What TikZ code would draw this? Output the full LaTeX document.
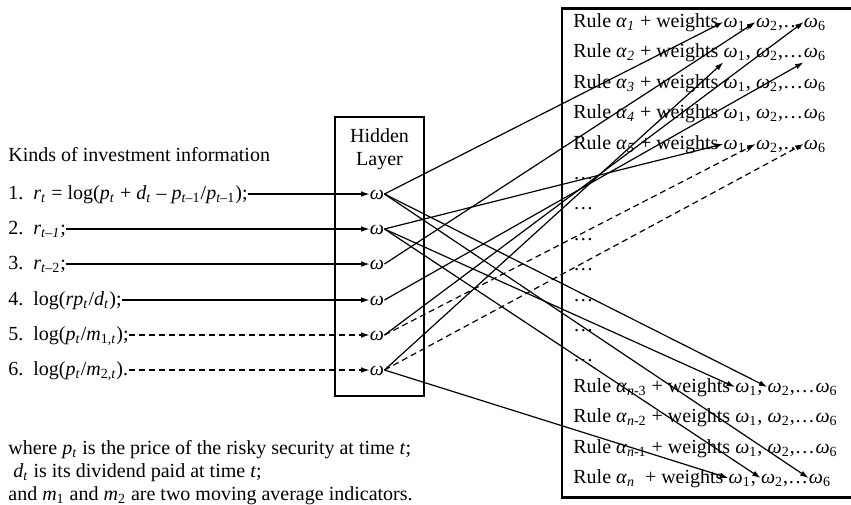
\documentclass[tikz,border=0pt]{standalone}
\usepackage{fontspec}
\setmainfont{Liberation Serif}
\usetikzlibrary{arrows.meta,positioning,fit}

\newcommand{\vi}[1]{\textit{#1}}
\newcommand{\lo}[1]{\textsubscript{#1}}
\newcommand{\om}[1]{\vi{ω}\lo{#1}}

\tikzset{
  txt/.style={inner sep=0pt, text height=0.75em, text depth=0.25em},
  box/.style={draw, line width=0.9pt, inner sep=0pt},
  feed/.style={line width=0.6pt, -{Latex[length=4.2pt,width=2.8pt]}},
  dashline/.style={dash pattern=on 3pt off 2pt},
}

% one row of the rule table: name, y, alpha
\newcommand{\rulerow}[3]{%
  \node[txt, anchor=west] (#1) at (573,#2) {Rule #3 + weights\kern.22em};
  \node[txt, anchor=west] (#1a) at (#1.east) {\om{1},\kern.22em};
  \node[txt, anchor=west] (#1b) at (#1a.east) {\om{2},\ldots};
  \node[txt, anchor=west] (#1c) at (#1b.east) {\om{6}};
}

\begin{document}
\begin{tikzpicture}[x=0.5pt, y=-0.5pt, font=\fontsize{10}{11.5}\selectfont]
  \useasboundingbox (0,0) rectangle (851,504);

  \node[box, fit={(335,117) (424,396)}] (hidden) {};
  \node[align=center, inner sep=0pt] (title) at (379.5,149) {Hidden\\Layer};
  \node[box, line width=0.7pt, fit={(562,9) (853,497)}] (rules) {};
  \draw[line width=1.3pt] (rules.north west) -- (rules.north east);
  \draw[line width=1.3pt] (rules.south west) -- (rules.south east);

  \node[txt, anchor=west] (kinds) at (8,156) {Kinds of investment information};
  \node[txt, anchor=west] (in1) at (8,194) {1.\ \ \vi{r}\lo{\vi{t}} = log(\vi{p}\lo{\vi{t}} + \vi{d}\lo{\vi{t}} – \vi{p}\lo{\vi{t}–1}/\vi{p}\lo{\vi{t}–1});};
  \node[txt, anchor=west] (in2) at (8,229) {2.\ \ \vi{r}\lo{\vi{t}–\vi{1}};};
  \node[txt, anchor=west] (in3) at (8,264) {3.\ \ \vi{r}\lo{\vi{t}–2};};
  \node[txt, anchor=west] (in4) at (8,300) {4.\ \ log(\vi{rp}\lo{\vi{t}}/\vi{d}\lo{\vi{t}});};
  \node[txt, anchor=west] (in5) at (8,335) {5.\ \ log(\vi{p}\lo{\vi{t}}/\vi{m}\lo{1,\vi{t}});};
  \node[txt, anchor=west] (in6) at (8,370) {6.\ \ log(\vi{p}\lo{\vi{t}}/\vi{m}\lo{2,\vi{t}}).};

  \node[txt] (w1) at (377,194) {\vi{ω}};
  \node[txt] (w2) at (377,229) {\vi{ω}};
  \node[txt] (w3) at (377,264) {\vi{ω}};
  \node[txt] (w4) at (377,300) {\vi{ω}};
  \node[txt] (w5) at (377,335) {\vi{ω}};
  \node[txt] (w6) at (377,370) {\vi{ω}};

  \rulerow{r1}{22}{\vi{α}\lo{\vi{1}}}
  \rulerow{r2}{52}{\vi{α}\lo{\vi{2}}}
  \rulerow{r3}{83}{\vi{α}\lo{\vi{3}}}
  \rulerow{r4}{113}{\vi{α}\lo{\vi{4}}}
  \rulerow{r5}{144}{\vi{α}\lo{\vi{5}}}
  \node[txt, anchor=west] (d1) at (573,174) {\ldots};
  \node[txt, anchor=west] (d2) at (573,204) {\ldots};
  \node[txt, anchor=west] (d3) at (573,235) {\ldots};
  \node[txt, anchor=west] (d4) at (573,265) {\ldots};
  \node[txt, anchor=west] (d5) at (573,296) {\ldots};
  \node[txt, anchor=west] (d6) at (573,326) {\ldots};
  \node[txt, anchor=west] (d7) at (573,356) {\ldots};
  \rulerow{rn3}{387}{\vi{α}\lo{\vi{n}-3}}
  \rulerow{rn2}{417}{\vi{α}\lo{\vi{n}-2}}
  \rulerow{rn1}{448}{\vi{α}\lo{\vi{n}-1}}
  \rulerow{rn}{478}{\vi{α}\lo{\vi{n}}\ }

  \node[txt, anchor=west] (note1) at (8,449) {where \vi{p}\lo{\vi{t}} is the price of the risky security at time \vi{t};};
  \node[txt, anchor=west] (note2) at (13,472) {\vi{d}\lo{\vi{t}} is its dividend paid at time \vi{t};};
  \node[txt, anchor=west] (note3) at (8,495) {and \vi{m}\lo{1} and \vi{m}\lo{2} are two moving average indicators.};

  \draw[feed] (in1) -- (w1);
  \draw[feed] (in2) -- (w2);
  \draw[feed] (in3) -- (w3);
  \draw[feed] (in4) -- (w4);
  \draw[feed, dashline] (in5) -- (w5);
  \draw[feed, dashline] (in6) -- (w6);

  \draw[feed] (w1.east) -- (r1a.west);
  \draw[feed] (w3.east) -- (r1b.west);
  \draw[feed] (w5.east) -- (r1c.west);
  \draw[feed] (w6.east) -- (r2a.south west);
  \draw[feed] (w4.east) -- (r2c.south west);
  \draw[feed] (w2.east) -- (r5a.west);
  \draw[feed, dashline] (w5.east) -- (r5b.west);
  \draw[feed, dashline] (w6.east) -- (r5c.west);
  \draw[feed] (w2.east) -- (rn3a.west);
  \draw[feed] (w1.east) -- (rn3b.west);
  \draw[feed] (w6.east) -- (rna.west);
  \draw[feed] (w2.east) -- (rnb.west);
  \draw[feed] (w1.east) -- (rnc.west);
\end{tikzpicture}
\end{document}
